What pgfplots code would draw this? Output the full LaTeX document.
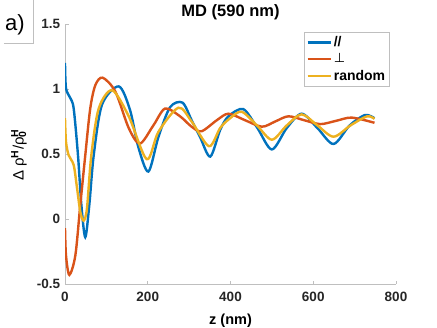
\documentclass[border=0pt]{standalone}
\usepackage{fontspec}
\setmainfont{Liberation Sans}
\newfontfamily\dejavu{DejaVu Sans}
\usepackage{pgfplots}
\pgfplotsset{compat=1.18}

% MATLAB default line colours
\definecolor{mblue}{rgb}{0,0.447,0.741}
\definecolor{morange}{rgb}{0.85,0.325,0.098}
\definecolor{myellow}{rgb}{0.929,0.694,0.125}
\definecolor{axgray}{gray}{0.75}

\begin{document}
\fontsize{14bp}{16bp}\selectfont
\begin{tikzpicture}
\useasboundingbox (-65bp,-44bp) rectangle (372bp,284bp);
\begin{axis}[
  scale only axis,
  width=331bp, height=260bp,
  xmin=0, xmax=800, ymin=-0.5, ymax=1.5,
  axis lines*=left,
  axis line style={draw=axgray, line width=0.6bp},
  tick align=inside,
  major tick length=3.5bp,
  tick style={draw=axgray, line width=0.6bp},
  xtick={0,200,400,600,800},
  ytick={-0.5,0,0.5,1,1.5},
  yticklabels={-0.5,0,0.5,1,1.5},
  /pgf/number format/assume math mode=true,
  ticklabel style={font=\fontsize{13.5bp}{16bp}\selectfont\bfseries, text=black!85},
  xticklabel style={yshift=-3bp},
  xlabel={\bfseries z (nm)},
  xlabel style={font=\fontsize{14.5bp}{16bp}\selectfont, at={(0.5,0)}, anchor=base, yshift=-40bp},
  title={\bfseries MD (590 nm)},
  title style={font=\fontsize{16.5bp}{18bp}\selectfont, at={(0.5,1)}, anchor=base, yshift=2bp},
  legend style={at={(0.98,0.969)}, anchor=north east, draw=axgray,
    font=\fontsize{14bp}{16bp}\selectfont\bfseries, inner sep=2bp,
    row sep=1.2bp},
  legend cell align=left,
  legend image code/.code={\draw[#1] (0bp,0bp) -- (23bp,0bp);},
  every axis plot/.append style={line width=2.4bp, smooth, tension=0.5},
]
\addplot[mblue] coordinates {
(0,1.20) (2.4,1.005) (12.9,0.93) (21,0.85) (31.4,0.49) (39.5,0.11) (49,-0.14)
(58.8,0.11) (69.4,0.49) (89.5,0.88) (130,1.02) (157,0.84) (177,0.556) (201.5,0.365)
(225.7,0.63) (254,0.86) (284,0.895) (306,0.76) (326.5,0.63) (351,0.48) (375,0.685)
(395,0.79) (431,0.845) (465,0.70) (500,0.535) (536,0.70) (572,0.81) (610,0.70)
(649,0.577) (688,0.72) (725,0.80) (748,0.775)
};
\addlegendentry{//}
\addplot[morange] coordinates {
(0,-0.07) (2.4,-0.28) (10.5,-0.43) (25,-0.28) (37,0.11) (49,0.49) (61,0.85)
(73.4,1.03) (91,1.087) (121.7,0.98) (154,0.70) (181,0.58) (213.6,0.72) (242,0.85)
(278,0.79) (306,0.71) (330,0.675) (367,0.76) (395,0.81) (435,0.76) (476,0.71)
(508,0.75) (540,0.79) (578,0.76) (617,0.73) (655,0.755) (693,0.78) (748,0.74)
};
\addlegendentry{{\dejavu\mdseries\fontsize{13bp}{16bp}\selectfont ⊥}}
\addplot[myellow] coordinates {
(0,0.775) (2.4,0.595) (8.9,0.49) (21,0.415) (29,0.24) (37,0.056) (45,-0.013)
(53,0.08) (63.6,0.49) (81.5,0.85) (114,0.99) (154,0.79) (197.6,0.46) (225.7,0.67)
(274,0.856) (306,0.75) (348,0.56) (375,0.70) (399,0.775) (427,0.825) (464,0.72)
(500,0.61) (536,0.72) (572,0.805) (610,0.72) (649,0.633) (690,0.72) (730,0.79)
(748,0.77)
};
\addlegendentry{random}
\end{axis}
% y label, set by hand beside the axis
\node[rotate=90, anchor=center, inner sep=0pt, font=\fontsize{15bp}{17bp}\selectfont]
  at (-46bp,129bp) {Δ ρ\textsuperscript{\bfseries H}/ρ\rlap{\textsubscript{\bfseries 0}}\textsuperscript{\bfseries H}};
% panel tag
\draw[axgray, line width=0.6bp] (-61bp,241bp) -- (-32bp,241bp) -- (-32bp,284bp);
\node[anchor=base west, inner sep=0pt, font=\fontsize{22bp}{24bp}\selectfont] at (-60bp,253bp) {a)};
\end{tikzpicture}
\end{document}
